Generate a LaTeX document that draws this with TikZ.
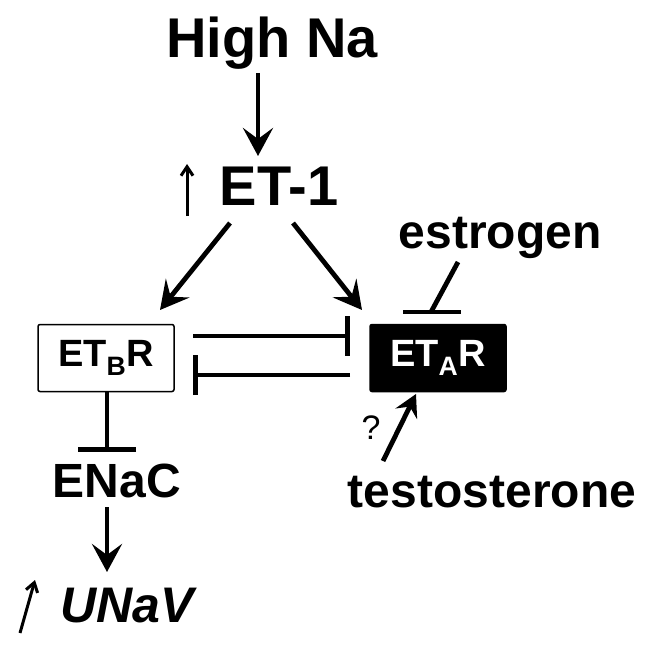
\documentclass[tikz,border=0pt]{standalone}
\usepackage{fontspec}
\setmainfont{Liberation Sans}
\usetikzlibrary{arrows.meta}
\begin{document}
\begin{tikzpicture}[x=1pt,y=-1pt,
  lbl/.style={font=\fontsize{48}{52}\selectfont\bfseries, inner sep=0pt},
  big/.style={font=\fontsize{56}{60}\selectfont\bfseries, inner sep=0pt},
  rec/.style={font=\fontsize{38}{42}\selectfont\bfseries, inner sep=0pt, minimum width=136pt, minimum height=67pt, line width=1.5pt, rounded corners=2pt},
  act/.style={line width=4.8pt, -{Stealth[length=28pt,width=30pt,inset=11pt]}},
  inh/.style={line width=4.8pt, -{Bar[width=40pt,line width=4.8pt]}},
  upa/.style={line width=3pt, -{Straight Barb[length=9pt,width=12pt,line width=3pt]}}]
\useasboundingbox (0,0) rectangle (652,652);
\node[big, anchor=base] (na) at (272,58) {High Na};
\node[big, anchor=base] (et1) at (279,205) {ET-1};
\coordinate (upA1) at (187,216);
\coordinate (upA2) at (187,164);
\draw[upa] (upA1) -- (upA2);
\coordinate (naS) at (258,73);
\coordinate (naT) at (258,156);
\draw[act] (naS) -- (naT);
\node[rec, draw=black, fill=white] (etb) at (106,358) {ET\textsubscript{B}R};
\node[rec, draw=black, fill=black, text=white] (eta) at (438,358) {ET\textsubscript{A}R};
\coordinate (l1) at (230,223);
\coordinate (l2) at (160,310);
\coordinate (r1) at (293,223);
\coordinate (r2) at (362,310);
\draw[act] (l1) -- (l2);
\draw[act] (r1) -- (r2);
\coordinate (t1) at (193,336);
\coordinate (t2) at (350,336);
\coordinate (b1) at (350,375);
\coordinate (b2) at (193,375);
\draw[inh] (t1) -- (t2);
\draw[inh] (b1) -- (b2);
\node[lbl, anchor=base] (est) at (500,248) {estrogen};
\coordinate (e1) at (458,262);
\coordinate (e2) at (431,312);
\coordinate (eb1) at (403,312);
\coordinate (eb2) at (461,312);
\draw[line width=4.8pt] (e1) -- (e2);
\draw[line width=4.8pt] (eb1) -- (eb2);
\node[lbl, anchor=base] (tes) at (492,507) {testosterone};
\coordinate (s1) at (383,461);
\coordinate (s2) at (416,394);
\draw[line width=4.8pt, -{Stealth[length=22pt,width=24pt,inset=8pt]}] (s1) -- (s2);
\node[font=\fontsize{34}{36}\selectfont, inner sep=0pt] (q) at (371,428) {?};
\coordinate (d1) at (107,392);
\coordinate (d2) at (107,452);
\draw[line width=4.8pt, -{Bar[width=58pt,line width=4.8pt]}] (d1) -- (d2);
\node[lbl, anchor=base] (enac) at (117,497) {ENaC};
\coordinate (n1) at (107,507);
\coordinate (n2) at (107,572);
\draw[act] (n1) -- (n2);
\node[font=\fontsize{50}{54}\selectfont\bfseries\itshape, inner sep=0pt, anchor=base] (unav) at (127,622) {UNaV};
\coordinate (u1) at (20,633);
\coordinate (u2) at (35,580);
\draw[upa] (u1) -- (u2);
\end{tikzpicture}
\end{document}
